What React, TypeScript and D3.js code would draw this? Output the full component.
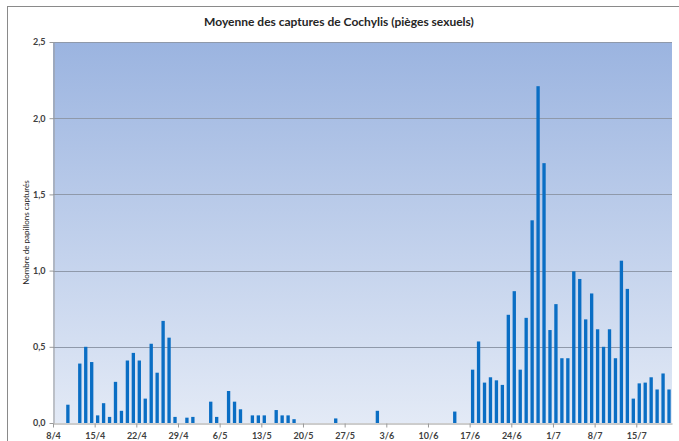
import { useEffect, useRef } from 'react'
import * as d3 from 'd3'

// one value per day, from 8/4 to 20/7 (rows = weeks)
const captures: number[] = [
  0, 0, 0.12, 0, 0.39, 0.5, 0.4,
  0.05, 0.13, 0.04, 0.27, 0.08, 0.41, 0.46,
  0.41, 0.16, 0.52, 0.33, 0.67, 0.56, 0.04,
  0, 0.035, 0.04, 0, 0, 0.14, 0.04,
  0, 0.21, 0.14, 0.09, 0, 0.05, 0.05,
  0.05, 0, 0.085, 0.05, 0.05, 0.025, 0,
  0, 0, 0, 0, 0, 0.03, 0,
  0, 0, 0, 0, 0, 0.08, 0,
  0, 0, 0, 0, 0, 0, 0,
  0, 0, 0, 0, 0.075, 0, 0,
  0.35, 0.535, 0.265, 0.3, 0.28, 0.25, 0.71,
  0.865, 0.35, 0.69, 1.33, 2.21, 1.705, 0.61,
  0.78, 0.425, 0.425, 0.995, 0.945, 0.68, 0.85,
  0.615, 0.5, 0.615, 0.425, 1.065, 0.88, 0.16,
  0.26, 0.265, 0.3, 0.22, 0.325, 0.22,
]

const startDate = new Date(2013, 3, 8)
const days = captures.map((_, i) => d3.timeDay.offset(startDate, i))

const xTickLabels = ['8/4', '15/4', '22/4', '29/4', '6/5', '13/5', '20/5', '27/5', '3/6', '10/6', '17/6', '24/6', '1/7', '8/7', '15/7']
const yTicks = [0, 0.5, 1, 1.5, 2, 2.5]

const title = 'Moyenne des captures de Cochylis (pièges sexuels)'
const yLabel = 'Nombre de papillons capturés'

const W = 679
const H = 441
const FONT = 'Lato, "Open Sans", sans-serif'

export default function App() {
  const svgRef = useRef<SVGSVGElement>(null)

  useEffect(() => {
    if (!svgRef.current) return
    document.body.style.margin = '0'
    const svg = d3.select(svgRef.current)
    svg.selectAll('*').remove()

    const margin = { top: 42, right: 7, bottom: 18, left: 53 }
    const x0 = margin.left
    const x1 = W - margin.right
    const y0 = H - margin.bottom
    const y1 = margin.top

    const xBand = d3.scaleBand<Date>()
      .domain(days)
      .range([x0, x1])
      .paddingInner(0.44)
      .paddingOuter(0.22)

    const xDay = d3.scaleLinear().domain([0, days.length]).range([x0, x1])

    const y = d3.scaleLinear().domain([0, 2.5]).range([y0, y1])

    // outer frame
    svg.append('rect')
      .attr('x', 7.5).attr('y', 6.5)
      .attr('width', 720).attr('height', 500)
      .attr('fill', 'white')
      .attr('stroke', '#8a8a8a')

    // plot background
    const defs = svg.append('defs')
    const grad = defs.append('linearGradient')
      .attr('id', 'bg').attr('x1', 0).attr('y1', 0).attr('x2', 0).attr('y2', 1)
    grad.append('stop').attr('offset', '0%').attr('stop-color', '#9bb4e0')
    grad.append('stop').attr('offset', '100%').attr('stop-color', '#e3eaf6')

    svg.append('rect')
      .attr('x', x0).attr('y', y1)
      .attr('width', x1 - x0).attr('height', y0 - y1)
      .attr('fill', 'url(#bg)')

    // gridlines
    svg.append('g')
      .selectAll('line')
      .data(yTicks.filter(d => d > 0))
      .join('line')
      .attr('x1', x0).attr('x2', x1)
      .attr('y1', d => Math.round(y(d)) + 0.5)
      .attr('y2', d => Math.round(y(d)) + 0.5)
      .attr('stroke', '#8f99aa')
      .attr('stroke-width', 1)

    // bars
    svg.append('g')
      .selectAll('rect')
      .data(captures.map((v, i) => ({ d: days[i], v })))
      .join('rect')
      .attr('x', d => xBand(d.d)!)
      .attr('width', xBand.bandwidth())
      .attr('y', d => y(d.v))
      .attr('height', d => y0 - y(d.v))
      .attr('fill', '#0a6ec4')

    // x axis
    const xAxis = d3.axisBottom(xDay)
      .tickValues(xTickLabels.map((_, i) => i * 7))
      .tickFormat((_, i) => xTickLabels[i])
      .tickSize(4)
      .tickSizeOuter(0)

    const gx = svg.append('g')
      .attr('transform', `translate(0, ${y0 + 0.5})`)
      .call(xAxis)
    gx.select('.domain').attr('stroke', '#9a9a9a')
    gx.selectAll('.tick line').attr('stroke', '#9a9a9a')
    gx.selectAll('.tick text')
      .attr('dy', '0.95em')
      .style('font-family', FONT)
      .style('font-size', '9px')
      .style('font-weight', 'bold')
      .style('fill', '#404040')

    // y axis
    const yAxis = d3.axisLeft(y)
      .tickValues(yTicks)
      .tickFormat(d => d3.format('.1f')(d as number).replace('.', ','))
      .tickSize(4)
      .tickSizeOuter(0)

    const gy = svg.append('g')
      .attr('transform', `translate(${x0 + 0.5}, 0)`)
      .call(yAxis)
    gy.select('.domain').attr('stroke', '#9a9a9a')
    gy.selectAll('.tick line').attr('stroke', '#9a9a9a')
    gy.selectAll('.tick text')
      .attr('x', -8)
      .style('font-family', FONT)
      .style('font-size', '9px')
      .style('font-weight', 'bold')
      .style('fill', '#404040')

    // title
    svg.append('text')
      .attr('x', 339)
      .attr('y', 26)
      .attr('text-anchor', 'middle')
      .style('font-family', FONT)
      .style('font-size', '12px')
      .style('font-weight', 'bold')
      .style('fill', '#262626')
      .text(title)

    // y label
    svg.append('text')
      .attr('transform', `translate(29, ${(y0 + y1) / 2}) rotate(-90)`)
      .attr('text-anchor', 'middle')
      .style('font-family', FONT)
      .style('font-size', '8px')
      .style('fill', '#262626')
      .text(yLabel)
  }, [])

  return (
    <svg
      ref={svgRef}
      width={W}
      height={H}
      style={{ display: 'block', position: 'absolute', left: 0, top: 0 }}
    />
  )
}
